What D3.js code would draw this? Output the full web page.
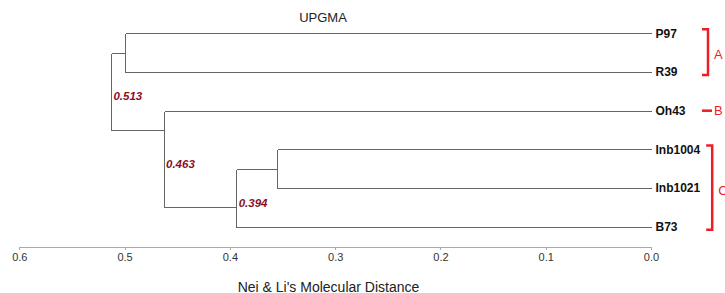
<!DOCTYPE html>
<html>
<head>
<meta charset="utf-8">
<script src="https://cdn.jsdelivr.net/npm/d3@7"></script>
<style>
  body{margin:0;background:#fff;}
  svg{display:block;font-family:"Liberation Sans",Arial,sans-serif;}
  .branch{fill:none;stroke:#666;stroke-width:1;shape-rendering:crispEdges;}
  .axis path,.axis line{stroke:#aaa;shape-rendering:crispEdges;}
  .axis text{fill:#333;font-size:11px;font-family:"Liberation Sans",Arial,sans-serif;}
</style>
</head>
<body>
<svg id="chart" width="725" height="293"></svg>
<script>
// ---------- データ ----------
const leaves=["P97","R39","Oh43","Inb1004","Inb1021","B73"];
// UPGMA の結合順 (n0, n1, ... は前の結合)
const merges=[["P97","R39"],["Inb1004","Inb1021"],["n1","B73"],["Oh43","n2"],["n0","n3"]];
const mergeHeights=[0.500,0.355,0.394,0.463,0.513];
const mergeLabels=[null,null,"0.394","0.463","0.513"];
const groupNames=["A","B","C"];
const groupMembers=[["P97","R39"],["Oh43"],["Inb1004","Inb1021","B73"]];
const tickValues=[0.6,0.5,0.4,0.3,0.2,0.1,0.0];

const svg=d3.select("#chart");
const W=725,H=293;
const x=d3.scaleLinear().domain([0.6,0]).range([19.3,651]);
const y=d3.scaleLinear().domain([0,leaves.length-1]).range([33.3,226.8]);

// ---------- ノード ----------
const nodes={};
leaves.forEach((name,i)=>{
    nodes[name]={name,height:0,row:i,first:i,last:i,leaf:true};
});
merges.forEach((pair,i)=>{
    const a=nodes[pair[0]],b=nodes[pair[1]];
    nodes["n"+i]={
        name:"n"+i,
        height:mergeHeights[i],
        children:[a,b],
        // 子の境目に接続
        row:a.last+0.5,
        first:a.first,last:b.last,
        label:mergeLabels[i]
    };
});
const root=nodes["n"+(merges.length-1)];

const g=svg.append("g");
const tree=d3.hierarchy(root);
tree.each(d=>{
    const n=d.data;
    if(!n.children)return;
    const [a,b]=n.children;
    // 縦線
    g.append("line").attr("class","branch")
        .attr("x1",Math.round(x(n.height))+0.5).attr("x2",Math.round(x(n.height))+0.5)
        .attr("y1",Math.round(y(a.row))+0.5).attr("y2",Math.round(y(b.row))+0.5);
    // 子への横線
    [a,b].forEach(c=>{
        g.append("line").attr("class","branch")
            .attr("x1",Math.round(x(n.height))+0.5).attr("x2",Math.round(x(c.height))+0.5)
            .attr("y1",Math.round(y(c.row))+0.5).attr("y2",Math.round(y(c.row))+0.5);
    });
    if(n.label){
        g.append("text")
            .attr("x",x(n.height)+2.5)
            .attr("y",(y(a.row)+y(b.row))/2+5)
            .attr("dy","0.35em")
            .attr("font-size",11.5)
            .attr("font-weight","bold")
            .attr("font-style","italic")
            .attr("fill","#8b0d1f")
            .text(n.label);
    }
});

// ---------- 葉ラベル ----------
const labelEnds={};
leaves.forEach((name,i)=>{
    const t=g.append("text")
        .attr("x",x(0)+4.5)
        .attr("y",y(i))
        .attr("dy","0.35em")
        .attr("font-size",12)
        .attr("font-weight","bold")
        .attr("fill","#111")
        .text(name);
    labelEnds[name]=x(0)+4.5+t.node().getComputedTextLength();
});

// ---------- グループ括弧 ----------
const red="#ee1c25";
groupNames.forEach((gname,i)=>{
    const members=groupMembers[i];
    const rows=members.map(m=>leaves.indexOf(m));
    const y0=y(d3.min(rows)),y1=y(d3.max(rows));
    const bx=Math.max(d3.max(members,m=>labelEnds[m])+12,708);
    if(members.length===1){
        g.append("line").attr("stroke",red).attr("stroke-width",2.5)
            .attr("x1",702).attr("x2",712).attr("y1",y0).attr("y2",y0);
        g.append("text").attr("x",714).attr("y",y0).attr("dy","0.35em")
            .attr("font-size",13).attr("fill",red).text(gname);
    }else{
        g.append("path")
            .attr("d",`M${bx-6},${y0-4}H${bx}V${y1+3}H${bx-6}`)
            .attr("fill","none").attr("stroke",red).attr("stroke-width",2.5);
        g.append("text").attr("x",bx+6).attr("y",(y0+y1)/2+2).attr("dy","0.35em")
            .attr("font-size",13).attr("fill",red).text(gname);
    }
});

// ---------- 軸 ----------
const axis=d3.axisBottom(x)
    .tickValues(tickValues)
    .tickFormat(d3.format(".1f"))
    .tickSize(3)
    .tickSizeOuter(0)
    .tickPadding(3.5);
svg.append("g").attr("class","axis")
    .attr("transform","translate(0,246.5)")
    .call(axis);

svg.append("text")
    .attr("x",328.5).attr("y",286.7).attr("dy","0.35em")
    .attr("text-anchor","middle")
    .attr("font-size",14).attr("fill","#222")
    .text("Nei & Li's Molecular Distance");

svg.append("text")
    .attr("x",323).attr("y",17.3).attr("dy","0.35em")
    .attr("text-anchor","middle")
    .attr("font-size",13).attr("fill","#222")
    .text("UPGMA");
</script>
</body>
</html>
